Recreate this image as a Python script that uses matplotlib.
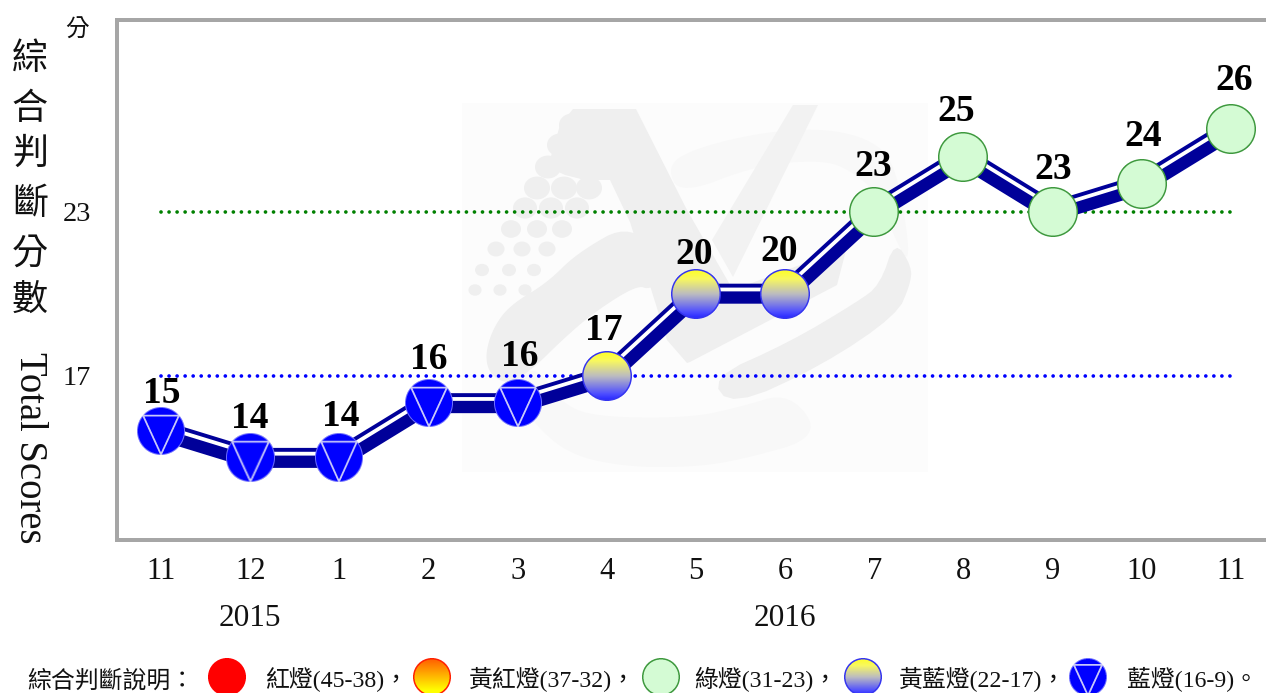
import numpy as np
import matplotlib
matplotlib.use("Agg")
import matplotlib.pyplot as plt
from matplotlib.offsetbox import OffsetImage, AnnotationBbox
from matplotlib.patches import Ellipse, Polygon, Rectangle
from matplotlib.transforms import IdentityTransform, blended_transform_factory

# ---------- data ----------
months = ["11", "12", "1", "2", "3", "4", "5", "6", "7", "8", "9", "10", "11"]
scores = [15, 14, 14, 16, 16, 17, 20, 20, 23, 25, 23, 24, 26]
thresholds = [23, 17]
threshold_colors = ["#008000", "#0000ff"]
years = ["2015", "2016"]
year_positions = [1, 7]
title_cjk = ["綜", "合", "判", "斷", "分", "數"]
legend_title = "綜合判斷說明："
legend_labels = ["紅燈(45-38)，", "黃紅燈(37-32)，", "綠燈(31-23)，", "黃藍燈(22-17)，", "藍燈(16-9)。"]
legend_kinds = ["red", "orange", "green", "yellowblue", "blue"]

# ---------- style / layout ----------
W, H, DPI = 1266, 693, 100
SERIF = ["Liberation Serif", "Noto Sans CJK TC"]
CJK = ["Noto Sans CJK TC", "Liberation Serif"]
px = 72 / DPI
label_offsets = [(1, 37), (0, 39), (1, 41), (0, 44), (2, 47), (-3, 45), (-2, 39),
                 (-6, 42), (-1, 45), (-7, 45), (1, 42), (1, 48), (3, 49)]
legend_icon_x = [227, 432, 661, 863, 1088]
legend_text_x = [265, 468, 694, 898, 1127]


def hexrgb(h):
    return np.array([int(h[i:i + 2], 16) for i in (1, 3, 5)], float) / 255


def marker_image(kind, dw, dh=None, ss=4):
    dh = dh or dw
    n_w, n_h = int(dw + 6), int(dh + 6)
    xs = (np.arange(n_w * ss) + .5) / ss - n_w / 2
    ys = (np.arange(n_h * ss) + .5) / ss - n_h / 2
    X, Y = np.meshgrid(xs, ys)
    R = np.sqrt((X / (dw / 2)) ** 2 + (Y / (dh / 2)) ** 2)
    t = np.clip((Y + dh / 2) / dh, 0, 1)[..., None]
    edge_w = 1.5

    def grad(stops):
        pos = [s[0] for s in stops]
        cols = np.array([hexrgb(s[1]) for s in stops])
        return np.stack([np.interp(t[..., 0], pos, cols[:, i]) for i in range(3)], -1)

    if kind == "red":
        rgb, edge = grad([(0, "#ff0000"), (1, "#ff0000")]), "#ff0000"
    elif kind == "orange":
        rgb, edge = grad([(0, "#ff5a00"), (.85, "#ffff00"), (1, "#ffff00")]), "#ff2000"
    elif kind == "green":
        rgb, edge = grad([(0, "#d4fbd4"), (1, "#d4fbd4")]), "#3e993e"
    elif kind == "yellowblue":
        rgb, edge = grad([(0, "#ffff20"), (.2, "#f8f860"), (.5, "#bcbcc0"), (.85, "#5050ff"), (1, "#2020ff")]), "#3535f0"
    else:
        rgb, edge = grad([(0, "#0000ff"), (1, "#0000ff")]), "#7070ff"
    edge_rgb = hexrgb(edge)
    w = 1.0 if kind == "blue" else edge_w
    band = 2 * w / dw
    rgb = np.where((R > 1 - band)[..., None], edge_rgb, rgb)
    if kind == "blue":
        s = dw / 47
        A, B, C = np.array([-17.5, -15]) * s, np.array([17.5, -15]) * s, np.array([0, 23]) * s
        line = np.zeros_like(X, bool)
        for P, Q in ((A, B), (B, C), (C, A)):
            d = Q - P
            u = np.clip(((X - P[0]) * d[0] + (Y - P[1]) * d[1]) / (d @ d), 0, 1)
            line |= np.hypot(X - P[0] - u * d[0], Y - P[1] - u * d[1]) < 0.9
        rgb = np.where(line[..., None], hexrgb("#c8c8fa"), rgb)
    alpha = (R <= 1).astype(float)
    rgba = np.dstack([rgb, alpha])
    rgba[..., :3] *= rgba[..., 3:]
    out = rgba.reshape(n_h, ss, n_w, ss, 4).mean(axis=(1, 3))
    a = np.maximum(out[..., 3:], 1e-6)
    out[..., :3] = np.clip(out[..., :3] / a, 0, 1)
    return out


def smooth(pts, n=3):
    """Chaikin corner cutting, to round the watermark's ring outlines."""
    p = np.array(pts, float)
    for _ in range(n):
        q = np.roll(p, -1, axis=0)
        p = np.column_stack([.75 * p + .25 * q, .25 * p + .75 * q]).reshape(-1, 2)
    return p


def offset_polyline(pts, dist):
    """Offset a display-space polyline to its left by dist, mitring the joints."""
    d = np.diff(pts, axis=0)
    nrm = np.column_stack([-d[:, 1], d[:, 0]]) / np.hypot(d[:, 0], d[:, 1])[:, None]
    out = np.zeros_like(pts)
    out[0] = pts[0] + dist * nrm[0]
    out[-1] = pts[-1] + dist * nrm[-1]
    for i in range(1, len(pts) - 1):
        m = nrm[i - 1] + nrm[i]
        m /= np.hypot(*m)
        out[i] = pts[i] + m * dist / (m @ nrm[i])
    return out


fig = plt.figure(figsize=(W / DPI, H / DPI), dpi=DPI)

# overlay in pixel units for watermark and free text
bg = fig.add_axes([0, 0, 1, 1], zorder=0)
bg.set_xlim(0, W)
bg.set_ylim(H, 0)
bg.axis("off")

DARK, MID, LIGHT = "#efefef", "#f2f2f2", "#f8f8f8"
bg.add_patch(Rectangle((462, 103), 466, 369, fc="#fcfcfc", ec="none"))
# lower light ring
bg.add_patch(Polygon(smooth([(505, 382), (535, 425), (570, 455), (627, 467), (693, 467), (740, 460), (822, 437),
                             (790, 392), (740, 407), (690, 418), (593, 417), (560, 402), (537, 365)]),
                     fc=LIGHT, ec="none"))
# top light ring
bg.add_patch(Polygon(smooth([(667, 167), (690, 150), (757, 133), (823, 128), (873, 140), (897, 167), (912, 267),
                             (895, 240), (880, 195), (850, 170), (823, 160), (757, 165), (680, 195)]),
                     fc=LIGHT, ec="none"))
# lower-left dark ring
bg.add_patch(Polygon(smooth([(485, 355), (493, 328), (510, 305), (547, 283), (577, 253), (632, 222), (673, 273),
                             (650, 290), (637, 285), (593, 313), (560, 342), (537, 365), (510, 385), (490, 375)]),
                     fc=DARK, ec="none"))
# lower-right dark ring
bg.add_patch(Polygon(smooth([(710, 378), (790, 342), (857, 302), (880, 285), (895, 240), (912, 267), (910, 285),
                             (897, 315), (823, 365), (732, 407)], 2), fc=DARK, ec="none"))
# left V arm with upper block and inner band
bg.add_patch(Polygon([(573, 109), (636, 109), (687, 210), (733, 290), (800, 265), (850, 235), (837, 285),
                      (690, 362), (687, 363), (667, 340), (630, 222), (610, 180), (585, 180), (565, 175),
                      (548, 167), (560, 125)], fc=DARK, ec="none"))
# right V arm
bg.add_patch(Polygon([(793, 105), (818, 105), (733, 277), (712, 240)], fc=MID, ec="none"))
# halftone dots: (row y, row x, size) in pixels
for y0, xs0, d0 in [(290, (475, 500, 525), 13), (270, (482, 509, 534), 14), (249, (496, 522, 547), 17),
                    (229, (511, 537, 562), 20), (208, (525, 551, 577), 24), (188, (537, 564, 589), 26),
                    (167, (548,), 26), (145, (560,), 26), (125, (572,), 26)]:
    for x0 in xs0:
        bg.add_patch(Ellipse((x0, y0), d0, d0 * .88, fc=DARK, ec="none"))

# main axes: extends past the right figure edge so no right border shows
ax = fig.add_axes([116.5 / W, 1 - 540 / H, (1275.5 - 116.5) / W, 520 / H], zorder=1)
ax.patch.set_alpha(0)
x = np.arange(len(scores))
ax.set_xlim(-.5, len(scores) - .5)
ax.set_ylim(11, 30)
ax.spines["right"].set_visible(False)
for side in ("left", "top", "bottom"):
    ax.spines[side].set_color("#a6a6a6")
    ax.spines[side].set_linewidth(4 * px)

ax.set_xticks(x, months, family=SERIF, fontsize=22, color="#111111")
ax.set_yticks(thresholds, [str(v) for v in thresholds], family=SERIF, fontsize=20.5, color="#111111")
ax.tick_params(axis="x", length=0, pad=12.5)
ax.tick_params(axis="y", length=0, pad=18.5)

for v, c in zip(thresholds, threshold_colors):
    ax.plot([x[0], x[-1]], [v, v], color=c, lw=3.7 * px, zorder=2,
            linestyle=(0, (0.01, 8 / 3.7)), dash_capstyle="round")

ax.plot(x, scores, color="#000099", lw=20 * px, solid_joinstyle="miter", solid_capstyle="butt", zorder=3)
stripe = offset_polyline(ax.transData.transform(np.column_stack([x, scores])), 4.2)
ax.plot(stripe[:, 0], stripe[:, 1], color="white", lw=3.8 * px, solid_joinstyle="miter", solid_capstyle="butt",
        zorder=3.1, transform=IdentityTransform(), clip_on=False)


def kind_of(v):
    return "blue" if v <= 16 else "yellowblue" if v <= 22 else "green"


size_of = {"blue": 48, "yellowblue": 50, "green": 50}
for xi, v, off in zip(x, scores, label_offsets):
    k = kind_of(v)
    im = OffsetImage(marker_image(k, size_of[k]), zoom=px)
    ax.add_artist(AnnotationBbox(im, (xi, v), frameon=False, pad=0, zorder=4, annotation_clip=False))
    ax.annotate(str(v), (xi, v), xytext=off, textcoords="offset pixels", ha="center", va="center",
                family=SERIF, fontsize=27, fontweight="bold", color="black", zorder=5)

tr = blended_transform_factory(ax.transData, bg.transData)
for yr, p in zip(years, year_positions):
    ax.text(p, 619, yr, transform=tr, ha="center", va="center", family=SERIF, fontsize=22.5, color="#111111")

# free text
bg.text(77, 30, "分", family=CJK, fontsize=17, ha="center", va="center", color="#111111")
for ch, yy in zip(title_cjk, [59, 109, 154, 204, 254, 301]):
    bg.text(30, yy, ch, family=CJK, fontsize=26, ha="center", va="center", color="#111111")
bg.text(20, 448, "Total Scores", family=SERIF, fontsize=27.8, rotation=270, rotation_mode="anchor",
        ha="center", va="baseline", color="#111111")

# legend
bg.text(27, 681, legend_title, family=CJK, fontsize=17.2, ha="left", va="center", color="#111111")
for lab, kind, ix, tx in zip(legend_labels, legend_kinds, legend_icon_x, legend_text_x):
    im = OffsetImage(marker_image(kind, 38), zoom=px)
    bg.add_artist(AnnotationBbox(im, (ix, 677), frameon=False, pad=0, annotation_clip=False))
    bg.text(tx, 680, lab, family=SERIF, fontsize=17.2, ha="left", va="center", color="#111111")

fig.savefig("out.png", dpi=DPI)
